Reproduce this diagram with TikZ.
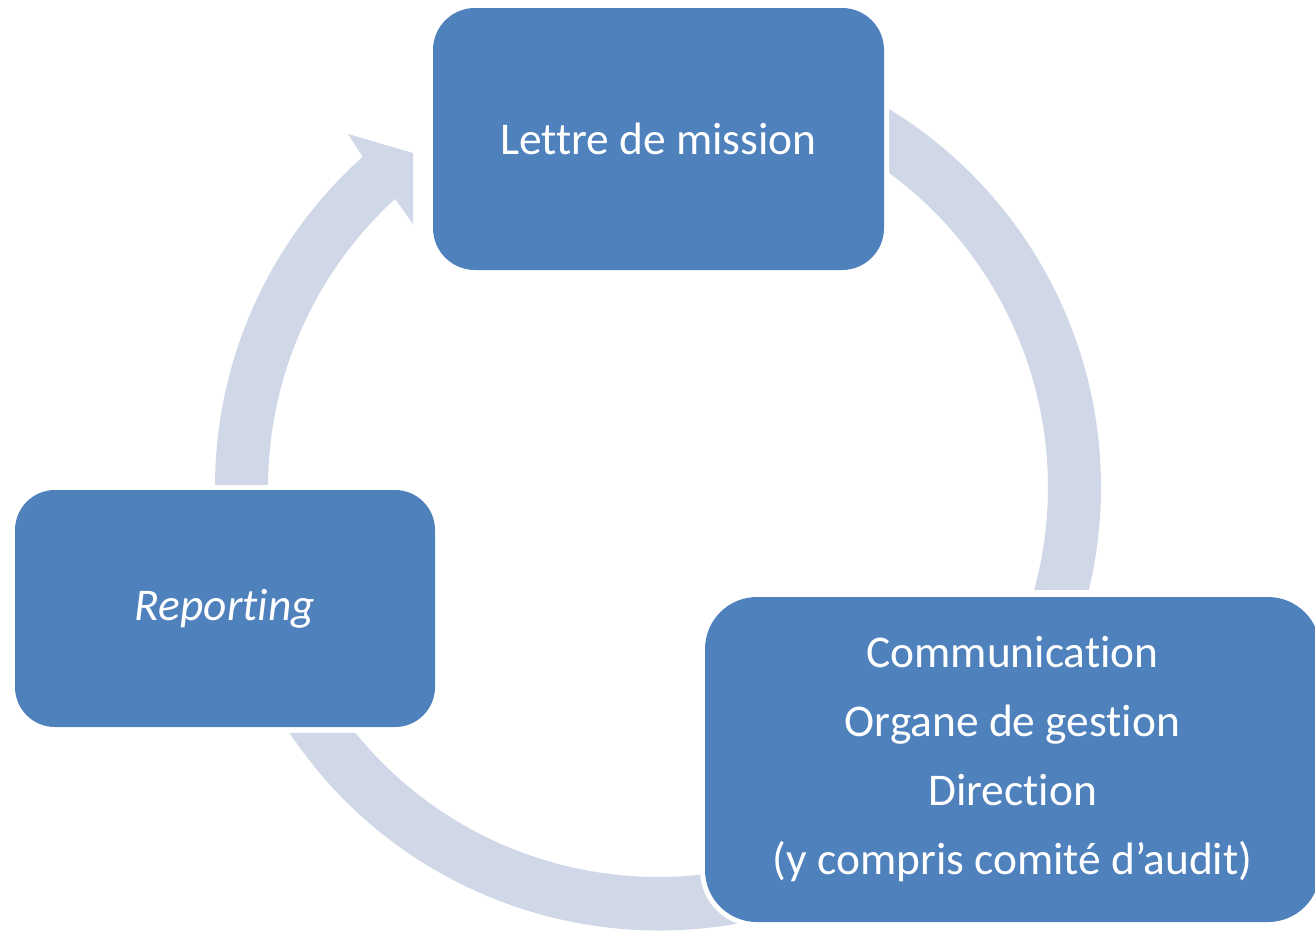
\documentclass[tikz,border=0pt]{standalone}
\usepackage{fontspec}
\setmainfont{Carlito}[Ligatures={NoCommon}]
\definecolor{boxblue}{HTML}{4F81BD}
\definecolor{ringgrey}{HTML}{D0D8E8}
\begin{document}
\begin{tikzpicture}[x=0.5pt,y=-0.5pt,
  stage/.style={fill=boxblue, text=white, rounded corners=#1, inner sep=0pt,
    align=center, font=\fontsize{22.7}{34.5}\selectfont,
    preaction={draw=white, line width=5pt}},
  ring/.style={fill=ringgrey}]
\useasboundingbox (0,0) rectangle (1315,932);
\clip (0,0) rectangle (1315,932);
\fill[white] (0,0) rectangle (1315,932);
\coordinate (c) at (658,487);
% right segment of the cycle
\fill[ring] (889,109) arc[start angle=-58.57, end angle=13.44, radius=443]
  -- (1034.1,590) arc[start angle=15.31, end angle=-53.68, radius=390] -- cycle;
% bottom segment, running under the lower right box
\fill[ring] (289.6,733) arc[start angle=146.27, end angle=60, radius=444]
  -- (853,824.7) arc[start angle=60, end angle=140.9, radius=390] -- cycle;
% left segment with its arrow head
\fill[ring] (215,485) arc[start angle=180.26, end angle=228.2, radius=443]
  -- (348,134) -- (413,153) -- (413,224) -- (395.1,198.9)
  arc[start angle=227.6, end angle=180.3, radius=390] -- cycle;
% stages
\node[stage=21pt, minimum width=225.5pt, minimum height=131pt] (lettre)
  at (658.5,139) {Lettre de mission};
\node[stage=20pt, minimum width=210pt, minimum height=118.5pt] (reporting)
  at (225,608.5) {\itshape Reporting};
\node[stage=26pt, minimum width=307.5pt, minimum height=162.5pt] (comm)
  at (1012.5,759.5) {Communication\\Organe de gestion\\Direction\\(y compris comité d’audit)};
\end{tikzpicture}
\end{document}
